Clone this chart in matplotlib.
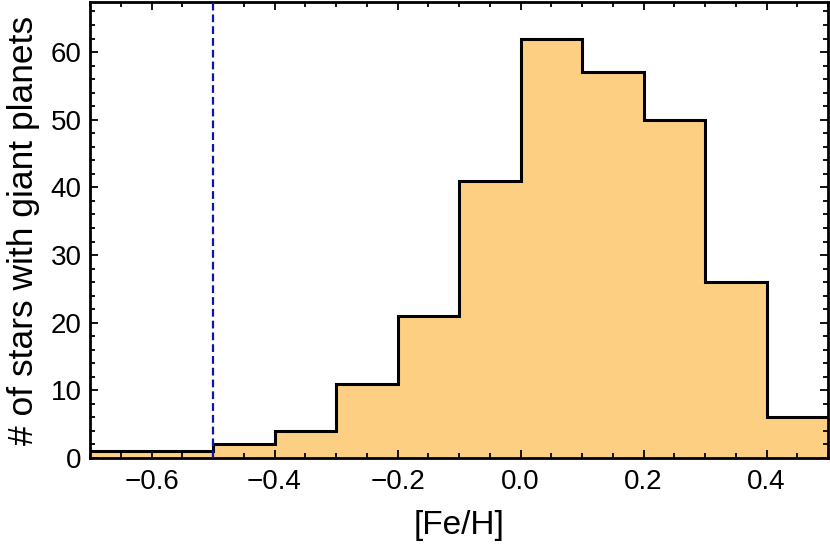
import matplotlib
matplotlib.use("Agg")
import matplotlib.pyplot as plt
import numpy as np
from matplotlib.ticker import MultipleLocator

plt.rcParams['font.family'] = ['Liberation Sans', 'DejaVu Sans']

bin_edges = [-0.7, -0.6, -0.5, -0.4, -0.3, -0.2, -0.1, 0.0, 0.1, 0.2, 0.3, 0.4, 0.5]
counts = [1, 1, 2, 4, 11, 21, 41, 62, 57, 50, 26, 6]
cut_value = -0.5

fig = plt.figure(figsize=(8.30, 5.48), dpi=100)
ax = fig.add_axes([90/830, 1 - 458/548, (828-90)/830, (458-2)/548])

ax.stairs(counts, bin_edges, fill=True, color='#FCCF82', linewidth=0)
ax.stairs(counts, bin_edges, fill=False, color='black', linewidth=2.2, baseline=None)
ax.axvline(cut_value, color='#1212B0', linestyle=(0, (3.5, 1.8)), linewidth=1.6, zorder=3)

ax.set_xlim(-0.7, 0.5)
ax.set_ylim(0, 67.4)
ax.xaxis.set_major_locator(MultipleLocator(0.2))
ax.xaxis.set_minor_locator(MultipleLocator(0.05))
ax.yaxis.set_major_locator(MultipleLocator(10))
ax.yaxis.set_minor_locator(MultipleLocator(2))
ax.xaxis.set_major_formatter(plt.FuncFormatter(lambda v, p: f"{v:.1f}".replace('-', '\u2212') if abs(v) > 1e-9 else "0.0"))

ax.tick_params(which='both', direction='in', top=True, right=True, width=1.3, colors='black', labelsize=20)
ax.tick_params(which='major', length=6)
ax.tick_params(which='minor', length=3.5)
ax.tick_params(axis='x', pad=8)
ax.tick_params(axis='y', pad=6)
for s in ax.spines.values():
    s.set_linewidth(2)

ax.set_xlabel('[Fe/H]', fontsize=24, labelpad=11)
ax.set_ylabel('# of stars with giant planets', fontsize=25.5, labelpad=8)

fig.savefig('out.png', dpi=100)
